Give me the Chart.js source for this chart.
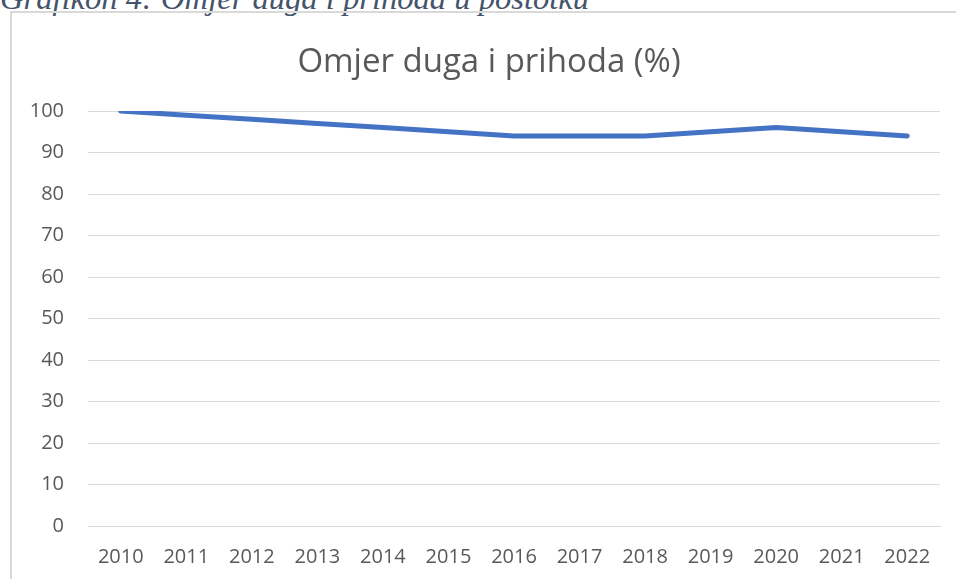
<!DOCTYPE html>
<html>
<head>
<meta charset="utf-8">
<script src="https://cdn.jsdelivr.net/npm/chart.js@4"></script>
<style>
  html, body { margin: 0; padding: 0; background: #fff; overflow: hidden; }
  body { width: 956px; height: 579px; position: relative; }
  #caption {
    position: absolute; left: 0; top: -20px; white-space: nowrap;
    font-family: "Liberation Serif", serif; font-style: italic; font-size: 32.6px;
    color: #44546A;
  }
  #box {
    position: absolute; left: 10px; top: 11px; width: 960px; height: 600px;
    border: 2px solid #D9D9D9; box-sizing: border-box;
  }
  #wrap { position: absolute; left: 11px; top: 13px; width: 945px; height: 582px; }
  #naslov {
    position: absolute; left: 0; width: 978px; top: 40px; text-align: center;
    font-family: "Open Sans", sans-serif; font-size: 33px; line-height: 40px; color: #595959;
  }
</style>
</head>
<body>
<div id="caption">Grafikon 4: Omjer duga i prihoda u postotku</div>
<div id="box"></div>
<div id="wrap"><canvas id="myChart"></canvas></div>
<div id="naslov">Omjer duga i prihoda (%)</div>
<script>
// godine i omjer duga i prihoda (%)
var godine = ["2010", "2011", "2012", "2013", "2014", "2015", "2016", "2017", "2018", "2019", "2020", "2021", "2022"];
var omjer = [100, 99, 98, 97, 96, 95, 94, 94, 94, 95, 96, 95, 94];
var yTicks = [0, 10, 20, 30, 40, 50, 60, 70, 80, 90, 100];

var sivo = "#595959";

new Chart("myChart", {
  type: "line",
  data: {
    labels: godine,
    datasets: [{
      data: omjer,
      borderColor: "#4472C4",
      borderWidth: 5,
      borderCapStyle: "round",
      borderJoinStyle: "round",
      pointRadius: 0,
      tension: 0,
      fill: false
    }]
  },
  options: {
    responsive: true,
    maintainAspectRatio: false,
    animation: false,
    layout: { padding: { left: 0, right: 16, top: 98, bottom: 15 } },
    plugins: {
      legend: { display: false },
      tooltip: { enabled: false },
      title: { display: false }
    },
    scales: {
      x: {
        offset: true,
        grid: { display: false },
        border: { display: true, color: "#D9D9D9" },
        ticks: { color: sivo, font: { family: "Open Sans", size: 20 }, padding: 11, maxRotation: 0 }
      },
      y: {
        min: 0,
        max: 100,
        afterBuildTicks: function (axis) { axis.ticks = yTicks.map(function (v) { return { value: v }; }); },
        afterFit: function (axis) { axis.width = 77; },
        grid: { color: "#D9D9D9", lineWidth: 1, drawTicks: false },
        border: { display: false },
        ticks: { color: sivo, font: { family: "Open Sans", size: 20 }, padding: 24 }
      }
    }
  }
});
</script>
</body>
</html>
